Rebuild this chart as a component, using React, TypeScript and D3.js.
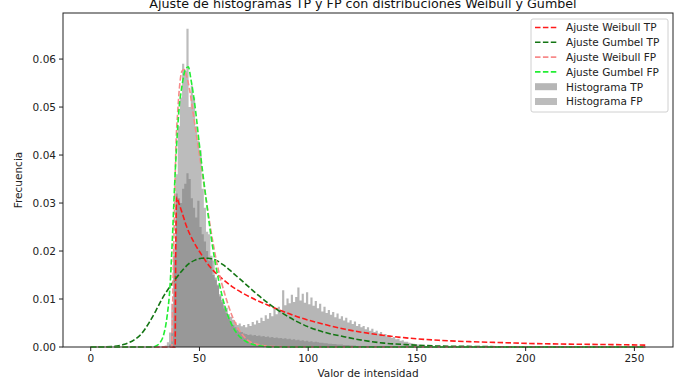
import React from 'react';
import * as d3 from 'd3';

const W = 693;
const H = 385;

// histogram bins (width 1), first bin left edge
const binStart = 34;
const tpHist = [
  0, 0, 0.0005, 0.003, 0.019, 0.032, 0.031, 0.030, 0.033, 0.034,
  0.0362, 0.035, 0.031, 0.029, 0.027, 0.0305, 0.025, 0.0235, 0.022, 0.020,
  0.018, 0.0185, 0.015, 0.0145, 0.0128, 0.011, 0.0098, 0.0087, 0.0082, 0.0068,
  0.0063, 0.0057, 0.0052, 0.0046, 0.0049, 0.0043, 0.0046, 0.0041, 0.0048, 0.0044,
  0.0052, 0.0047, 0.0055, 0.0050, 0.0061, 0.0054, 0.0066, 0.0059, 0.0071, 0.0064,
  0.0079, 0.0068, 0.0084, 0.0076, 0.0118, 0.0087, 0.0101, 0.0091, 0.0109, 0.0094,
  0.0104, 0.0124, 0.0097, 0.0111, 0.0092, 0.0114, 0.0089, 0.0103, 0.0086, 0.0096,
  0.0081, 0.0090, 0.0074, 0.0084, 0.0071, 0.0077, 0.0067, 0.0073, 0.0062, 0.0070,
  0.0059, 0.0064, 0.0055, 0.0061, 0.0051, 0.0056, 0.0048, 0.0053, 0.0044, 0.0048,
  0.0041, 0.0044, 0.0037, 0.0041, 0.0034, 0.0038, 0.0031, 0.0034, 0.0028, 0.0031,
  0.0025, 0.0027, 0.0022, 0.0024, 0.0019, 0.0021, 0.0016, 0.0017, 0.0013, 0.0014,
  0.0011, 0.0011, 0.0009, 0.0008, 0.0007, 0.0006, 0.0005, 0.0004, 0.0003, 0.0003,
  0.0002, 0.0002, 0.0001, 0.0001, 0.0001, 0.0001,
];
const fpHist = [
  0.0003, 0.001, 0.003, 0.009, 0.021, 0.036, 0.046, 0.052, 0.059, 0.0575,
  0.0663, 0.050, 0.0545, 0.052, 0.046, 0.043, 0.041, 0.033, 0.029, 0.024,
  0.0235, 0.019, 0.018, 0.014, 0.013, 0.0105, 0.0093, 0.0080, 0.0071, 0.0060,
  0.0053, 0.0046, 0.0041, 0.0036, 0.0033, 0.0031, 0.0028, 0.0027, 0.0025, 0.0026,
  0.0024, 0.0025, 0.0023, 0.0024, 0.0022, 0.0023, 0.0021, 0.0022, 0.0020, 0.0021,
  0.0019, 0.0020, 0.0018, 0.0019, 0.0017, 0.0018, 0.0016, 0.0017, 0.0015, 0.0016,
  0.0014, 0.0015, 0.0013, 0.0014, 0.0012, 0.0013, 0.0011, 0.0012, 0.0010, 0.0011,
  0.0010, 0.0009, 0.0009, 0.0008, 0.0008, 0.0007, 0.0007, 0.0006, 0.0006, 0.0005,
  0.0005, 0.0005, 0.0004, 0.0004, 0.0004, 0.0003, 0.0003, 0.0003, 0.0002, 0.0002,
  0.0002, 0.0002, 0.0001, 0.0001, 0.0001, 0.0001, 0.0001,
];

// fitted curves
const weibullTPx = [0, 38.8, 39.1, 39.5, 40.5, 42, 44, 47, 51, 55, 60, 65, 72, 80, 88, 95, 105, 117, 130, 145, 160, 175, 190, 205, 220, 240, 255];
const weibullTPy = [0, 0, 0.02, 0.0312, 0.030, 0.028, 0.0252, 0.0222, 0.0192, 0.0166, 0.0144, 0.0126, 0.0107, 0.0090, 0.0075, 0.0063, 0.0050, 0.0037, 0.0027, 0.0019, 0.0014, 0.0011, 0.0009, 0.0007, 0.0006, 0.0005, 0.0004];

const gumbelTPx = [0, 10, 15, 20, 23, 27, 30, 33, 36, 39, 42, 45, 48, 51, 54, 57.5, 61, 64, 67, 72, 77, 82, 88, 94, 100, 108, 117, 125, 135, 145, 160, 180, 200, 255];
const gumbelTPy = [0, 0.0001, 0.0005, 0.0015, 0.0026, 0.0052, 0.0076, 0.0102, 0.0123, 0.0142, 0.0159, 0.0173, 0.0181, 0.0185, 0.0185, 0.0181, 0.0171, 0.0160, 0.0148, 0.0128, 0.0108, 0.0090, 0.0071, 0.0055, 0.0042, 0.0030, 0.0021, 0.0014, 0.0008, 0.0005, 0.0002, 0.0001, 0, 0];

const weibullFPx = [0, 37.3, 37.8, 38.5, 39.2, 40, 41, 42, 43, 44, 45.5, 47, 48.5, 50, 51.5, 53, 55, 58, 62, 65, 68, 72, 77, 85, 100, 255];
const weibullFPy = [0, 0, 0.012, 0.028, 0.042, 0.049, 0.055, 0.0575, 0.0578, 0.0566, 0.0535, 0.049, 0.0445, 0.040, 0.0355, 0.031, 0.025, 0.0175, 0.0105, 0.0065, 0.0037, 0.0015, 0.0005, 0.0001, 0, 0];

const gumbelFPx = [0, 28, 30, 32, 33.5, 35, 36.5, 37.5, 38.5, 39.5, 40.5, 42, 43.5, 44.9, 46, 48, 50, 53, 56, 59, 62, 65, 68, 72, 77, 85, 255];
const gumbelFPy = [0, 0, 0.0002, 0.001, 0.0025, 0.006, 0.013, 0.022, 0.033, 0.042, 0.049, 0.0545, 0.0578, 0.0584, 0.056, 0.050, 0.042, 0.031, 0.021, 0.0135, 0.008, 0.0045, 0.0024, 0.001, 0.0003, 0, 0];

const xTicks = [0, 50, 100, 150, 200, 250];
const yTicks = [0, 0.01, 0.02, 0.03, 0.04, 0.05, 0.06];

const legendItems = [
  { label: 'Ajuste Weibull TP', kind: 'line', color: '#ff1a1a' },
  { label: 'Ajuste Gumbel TP', kind: 'line', color: '#137513' },
  { label: 'Ajuste Weibull FP', kind: 'line', color: '#f78a8a' },
  { label: 'Ajuste Gumbel FP', kind: 'line', color: '#22ee33' },
  { label: 'Histograma TP', kind: 'patch', color: '#6e6e6e' },
  { label: 'Histograma FP', kind: 'patch', color: '#7a7a7a' },
];

const FONT = 'DejaVu Sans, sans-serif';

export default function App() {
  const L = 63, R = 673, T = 13, B = 347;
  const x = d3.scaleLinear().domain([-12.75, 267.75]).range([L, R]);
  const y = d3.scaleLinear().domain([0, 0.0696]).range([B, T]);

  const histPath = (vals: number[]) => {
    const pts: [number, number][] = vals.map((v, i) => [binStart + i, v]);
    pts.push([binStart + vals.length, 0]);
    const area = d3
      .area<[number, number]>()
      .x((d) => x(d[0]))
      .y0(y(0))
      .y1((d) => y(d[1]))
      .curve(d3.curveStepAfter);
    return area(pts) || '';
  };

  const linePath = (xs: number[], ys: number[]) => {
    const pts: [number, number][] = xs.map((v, i) => [v, ys[i]]);
    const ln = d3
      .line<[number, number]>()
      .x((d) => x(d[0]))
      .y((d) => y(d[1]))
      .curve(d3.curveMonotoneX);
    return ln(pts) || '';
  };

  const curves = [
    { xs: weibullTPx, ys: weibullTPy, color: legendItems[0].color },
    { xs: gumbelTPx, ys: gumbelTPy, color: legendItems[1].color },
    { xs: weibullFPx, ys: weibullFPy, color: legendItems[2].color },
    { xs: gumbelFPx, ys: gumbelFPy, color: legendItems[3].color },
  ];

  const dash = '5.5,2.4';
  const legX = 531, legY = 19, legW = 137, legH = 93;

  return (
    <svg
      width={W}
      height={H}
      style={{ position: 'absolute', left: 0, top: 0, background: '#fff' }}
      fontFamily={FONT}
    >
      <rect x={0} y={0} width={W} height={H} fill="#fff" />
      <text x={(L + R) / 2 - 5} y={8} textAnchor="middle" fontSize={12.7} fill="#111">
        Ajuste de histogramas TP y FP con distribuciones Weibull y Gumbel
      </text>

      <path d={histPath(tpHist)} fill={legendItems[4].color} fillOpacity={0.5} />
      <path d={histPath(fpHist)} fill={legendItems[5].color} fillOpacity={0.5} />

      {curves.map((c, i) => (
        <path
          key={i}
          d={linePath(c.xs, c.ys)}
          fill="none"
          stroke={c.color}
          strokeWidth={1.6}
          strokeDasharray={dash}
        />
      ))}

      <rect x={L} y={T} width={R - L} height={B - T} fill="none" stroke="#222" strokeWidth={1} />

      {xTicks.map((t) => (
        <g key={t}>
          <line x1={x(t)} x2={x(t)} y1={B} y2={B + 4} stroke="#222" />
          <text x={x(t)} y={B + 15} textAnchor="middle" fontSize={10.5} fill="#222">
            {t}
          </text>
        </g>
      ))}
      {yTicks.map((t) => (
        <g key={t}>
          <line x1={L - 4} x2={L} y1={y(t)} y2={y(t)} stroke="#222" />
          <text x={L - 7} y={y(t) + 3.8} textAnchor="end" fontSize={10.5} fill="#222">
            {d3.format('.2f')(t)}
          </text>
        </g>
      ))}

      <text x={(L + R) / 2} y={377} textAnchor="middle" fontSize={10.5} fill="#222">
        Valor de intensidad
      </text>
      <text
        transform={`translate(22,${(T + B) / 2}) rotate(-90)`}
        textAnchor="middle"
        fontSize={10.5}
        fill="#222"
      >
        Frecuencia
      </text>

      <rect
        x={legX}
        y={legY}
        width={legW}
        height={legH}
        rx={2}
        fill="#fff"
        fillOpacity={0.8}
        stroke="#d0d0d0"
        strokeWidth={1}
      />
      {legendItems.map((it, i) => {
        const cy = legY + 8.5 + i * 14.8;
        return (
          <g key={it.label}>
            {it.kind === 'line' ? (
              <line
                x1={535}
                x2={557}
                y1={cy}
                y2={cy}
                stroke={it.color}
                strokeWidth={1.6}
                strokeDasharray={dash}
              />
            ) : (
              <rect x={535} y={cy - 3.5} width={22} height={7} fill={it.color} fillOpacity={0.5} />
            )}
            <text x={566} y={cy + 3.8} fontSize={10.5} fill="#222">
              {it.label}
            </text>
          </g>
        );
      })}
    </svg>
  );
}
